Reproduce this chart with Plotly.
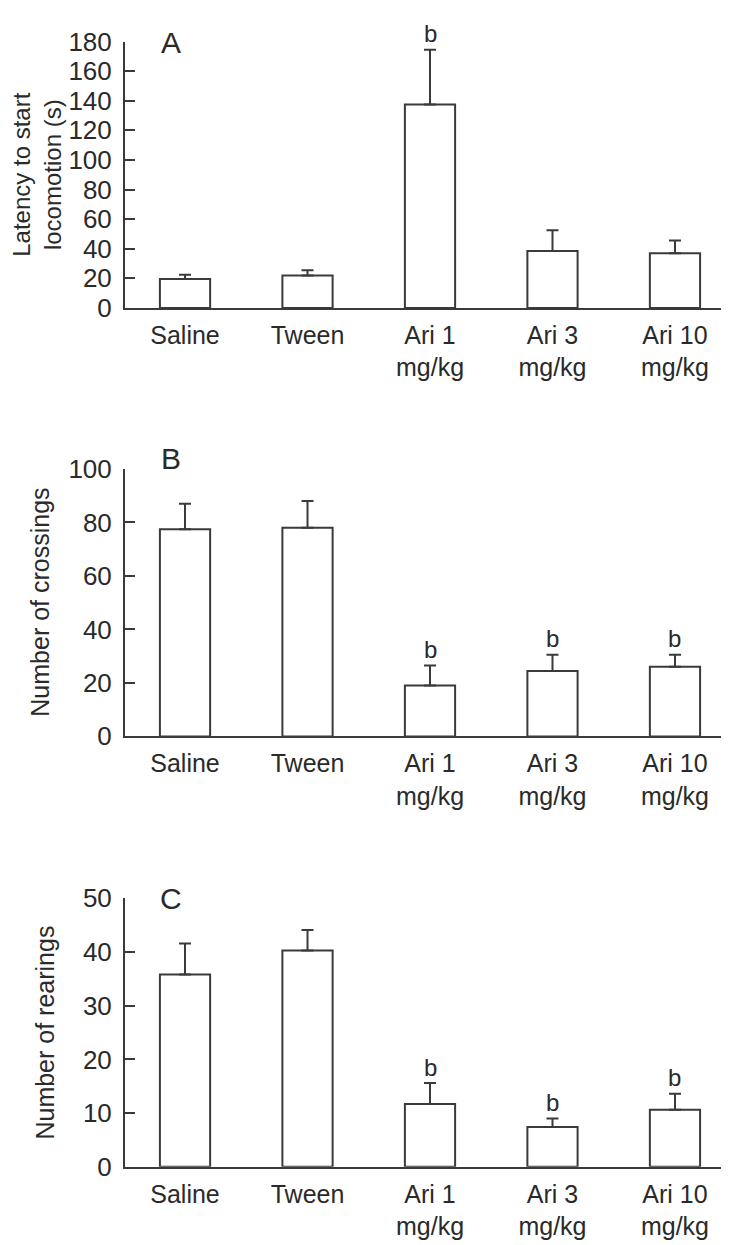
import plotly.graph_objects as go

categories = ["Saline", "Tween", "Ari 1<br>mg/kg", "Ari 3<br>mg/kg", "Ari 10<br>mg/kg"]

latency = [19.5, 22, 137.5, 38.5, 37]
latency_err = [3, 3.5, 37, 14, 8.5]
latency_sig = ["", "", "b", "", ""]

crossings = [77.5, 78, 19, 24.5, 26]
crossings_err = [9.5, 10, 7.5, 6, 4.5]
crossings_sig = ["", "", "b", "b", "b"]

rearings = [35.8, 40.3, 11.7, 7.4, 10.6]
rearings_err = [5.8, 3.8, 3.9, 1.6, 3.0]
rearings_sig = ["", "", "b", "b", "b"]

panel_letters = ["A", "B", "C"]
y_titles = ["Latency to start<br>locomotion (s)", "Number of crossings", "Number of rearings"]
y_ranges = [[0, 180], [0, 100], [0, 50]]
y_dticks = [20, 20, 10]

W, H = 729, 1245
INK = "#3a3a3a"
TXT = "#2a2a2a"
FONT = "Liberation Sans, Arial, sans-serif"

def py(p):
    return 1 - p / H

def px(p):
    return p / W

# panel pixel geometry (top, bottom) of the plotting area
panels = [(19, 292), (457, 731), (897, 1172)]
x_left, x_right = 117, 727
title_x = [29, 32, 37]
title_size = [24, 25, 25]
letter_y = [20, 446, 897]

fig = go.Figure()
data_sets = [(latency, latency_err, latency_sig),
             (crossings, crossings_err, crossings_sig),
             (rearings, rearings_err, rearings_sig)]

for i, (vals, errs, sigs) in enumerate(data_sets):
    n = "" if i == 0 else str(i + 1)
    xa, ya = "x" + n, "y" + n
    fig.add_trace(go.Bar(
        x=categories, y=vals, xaxis=xa, yaxis=ya,
        width=0.41,
        marker=dict(color="white", line=dict(color=INK, width=2)),
        error_y=dict(type="data", array=errs, arrayminus=[0] * len(errs),
                     symmetric=False, color=INK, thickness=2, width=6),
        showlegend=False,
    ))
    top, bot = panels[i]
    fig.update_layout(**{
        "xaxis" + n: dict(
            domain=[px(x_left), px(x_right)], anchor=ya,
            range=[-0.49, 4.49], showline=True, linecolor=INK, linewidth=2,
            ticks="", showgrid=False, zeroline=False,
            tickfont=dict(family=FONT, size=25, color=TXT),
            ticklabelstandoff=4,
        ),
        "yaxis" + n: dict(
            domain=[py(bot), py(top)], anchor=xa,
            range=y_ranges[i], dtick=y_dticks[i], showline=True, linecolor=INK,
            linewidth=2, ticks="inside", ticklen=10, tickwidth=2, tickcolor=INK,
            showgrid=False, zeroline=False,
            tickfont=dict(family=FONT, size=26, color=TXT),
            ticklabelstandoff=6,
        ),
    })
    # significance labels
    for c, v, e, s in zip(categories, vals, errs, sigs):
        if s:
            fig.add_annotation(x=c, y=v + e, xref=xa, yref=ya, text=s,
                               showarrow=False, yanchor="middle", yshift=16,
                               font=dict(family=FONT, size=24, color=TXT))
    # panel letter
    fig.add_annotation(x=px(163), y=py(letter_y[i]), xref="paper", yref="paper",
                       text=panel_letters[i], showarrow=False,
                       xanchor="center", yanchor="middle",
                       font=dict(family=FONT, size=30, color=TXT))
    # y title
    fig.add_annotation(x=px(title_x[i]), y=py((top + bot) / 2), xref="paper", yref="paper",
                       text=y_titles[i], showarrow=False, textangle=-90,
                       xanchor="center", yanchor="middle",
                       font=dict(family=FONT, size=title_size[i], color=TXT))

fig.update_layout(
    width=W, height=H,
    margin=dict(l=0, r=0, t=0, b=0),
    paper_bgcolor="white", plot_bgcolor="white",
    bargap=0.5,
)

fig.write_html("out.html")
